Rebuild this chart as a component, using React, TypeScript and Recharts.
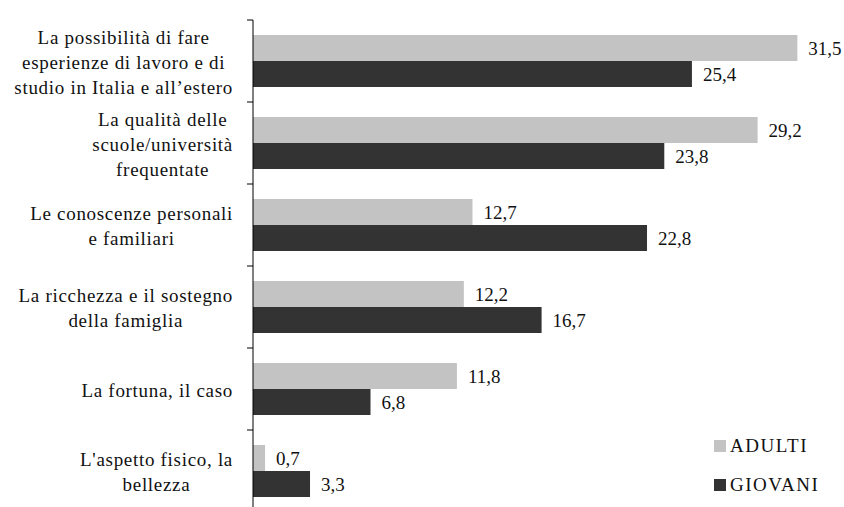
import React from "react";
import { BarChart, Bar, XAxis, YAxis, LabelList } from "recharts";

const categories = [
  "La possibilità di fare\nesperienze di lavoro e di\nstudio in Italia e all’estero",
  "La qualità delle\nscuole/università\nfrequentate",
  "Le conoscenze personali\ne familiari",
  "La ricchezza e il sostegno\ndella famiglia",
  "La fortuna, il caso",
  "L'aspetto fisico, la\nbellezza",
];
const adulti = [31.5, 29.2, 12.7, 12.2, 11.8, 0.7];
const giovani = [25.4, 23.8, 22.8, 16.7, 6.8, 3.3];
const seriesNames = ["ADULTI", "GIOVANI"];
const colors = ["#c3c3c3", "#333333"];

const data = categories.map((name, i) => ({ name, adulti: adulti[i], giovani: giovani[i] }));

const FONT = "Liberation Serif";
const FS = 19;
const LS = 0.7;
const BAND = 82;

let ctx: CanvasRenderingContext2D | null = null;
function measure(t: string) {
  if (!ctx) {
    const c = document.createElement("canvas");
    ctx = c.getContext("2d");
  }
  if (!ctx) return t.length * 9;
  ctx.font = `${FS}px "Liberation Serif"`;
  return ctx.measureText(t).width + t.length * LS;
}

const Tick = (props: any) => {
  const { x, y, payload, index } = props;
  const ax = x + 8;
  const lines: string[] = String(payload.value).split("\n");
  const maxW = Math.max(...lines.map(measure));
  const right = ax - 20;
  const cx = right - maxW / 2;
  const lh = 25;
  const startY = y + 1 - ((lines.length - 1) * lh) / 2;
  return (
    <g>
      <line x1={ax - 6} x2={ax} y1={y - BAND / 2} y2={y - BAND / 2} stroke="#000" />
      {index === categories.length - 1 && (
        <line x1={ax - 6} x2={ax} y1={y + BAND / 2} y2={y + BAND / 2} stroke="#000" />
      )}
      <text textAnchor="middle" fontFamily={FONT} fontSize={FS} letterSpacing={LS} fill="#111">
        {lines.map((l, i) => (
          <tspan key={i} x={cx} y={startY + i * lh} dy="0.35em">
            {l}
          </tspan>
        ))}
      </text>
    </g>
  );
};

const fmt = (v: any) => String(v).replace(".", ",");

export default function App() {
  return (
    <div style={{ position: "absolute", left: 0, top: 0, width: 844, height: 507, overflow: "hidden", background: "#fff" }}>
      <BarChart
        layout="vertical"
        width={844}
        height={512}
        data={data}
        margin={{ top: 20, right: 38, left: 0, bottom: 0 }}
        barCategoryGap={15}
        barGap={0}
      >
        <XAxis type="number" domain={[0, 32]} hide />
        <YAxis
          type="category"
          dataKey="name"
          width={253}
          axisLine={{ stroke: "#000" }}
          tickLine={false}
          tick={<Tick />}
          interval={0}
        />
        <Bar dataKey="adulti" name="ADULTI" fill={colors[0]} isAnimationActive={false}>
          <LabelList dataKey="adulti" position="right" offset={11} formatter={fmt} fontFamily={FONT} fontSize={FS} fill="#111" />
        </Bar>
        <Bar dataKey="giovani" name="GIOVANI" fill={colors[1]} isAnimationActive={false}>
          <LabelList dataKey="giovani" position="right" offset={11} formatter={fmt} fontFamily={FONT} fontSize={FS} fill="#111" />
        </Bar>
      </BarChart>
      <div style={{ position: "absolute", left: 714, top: 426, fontFamily: FONT, fontSize: FS, letterSpacing: 1.5, color: "#111" }}>
        {seriesNames.map((n, i) => (
          <div key={n} style={{ display: "flex", alignItems: "center", height: 39 }}>
            <span style={{ display: "inline-block", width: 12, height: 12, background: colors[i], marginRight: 4 }} />
            {n}
          </div>
        ))}
      </div>
    </div>
  );
}
